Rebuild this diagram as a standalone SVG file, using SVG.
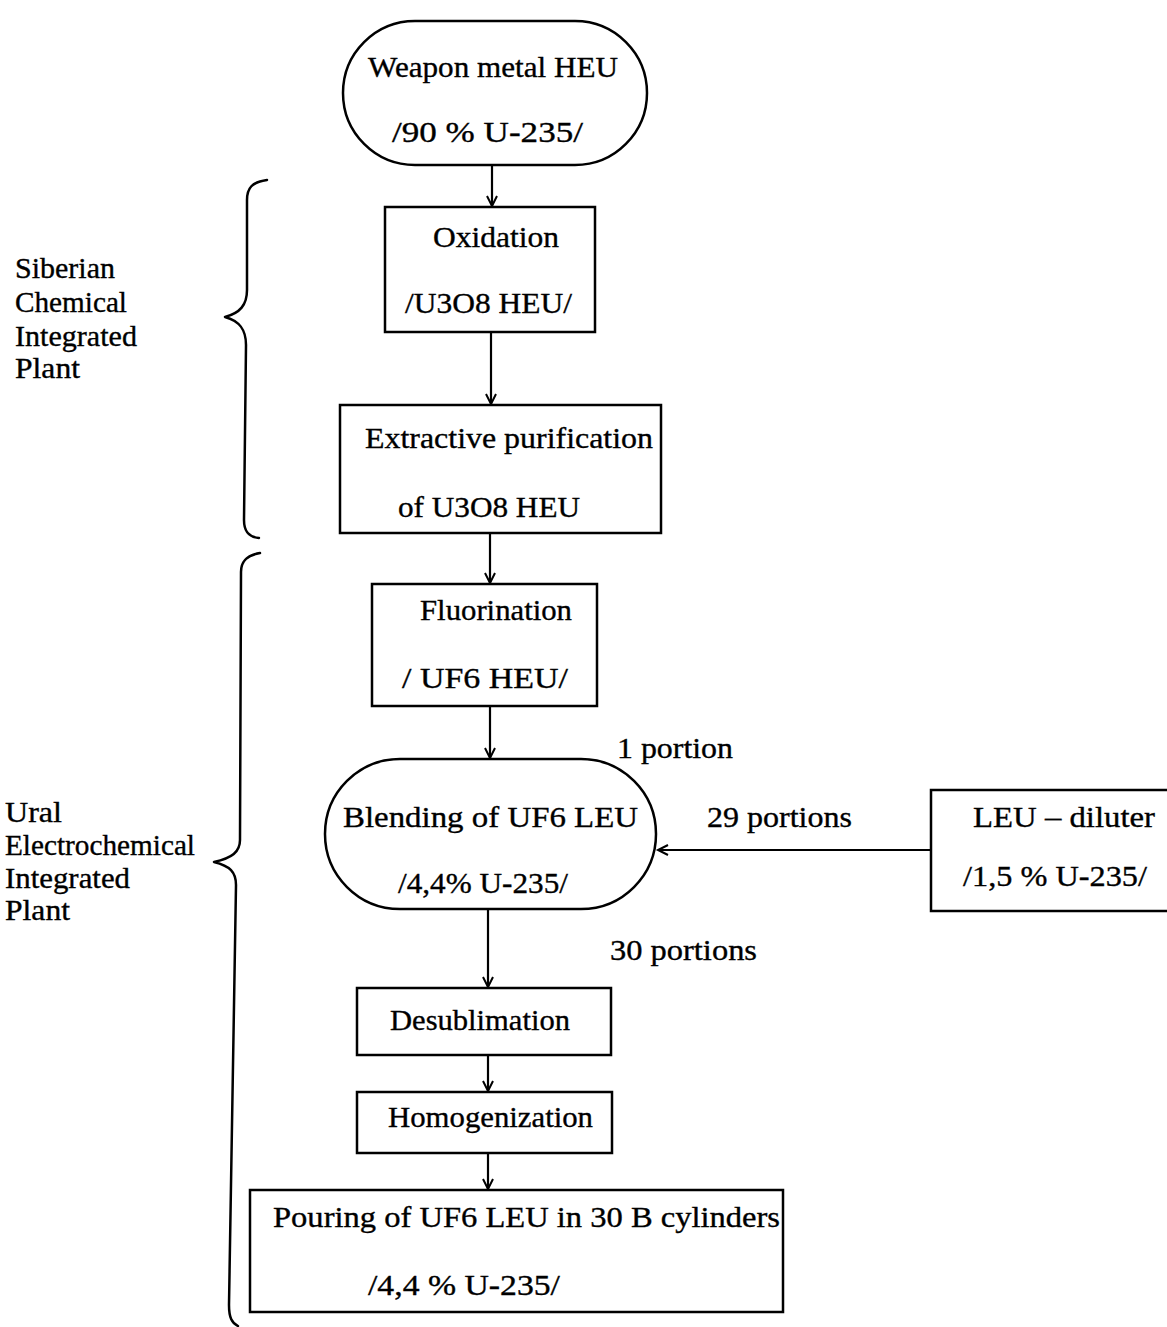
<svg xmlns="http://www.w3.org/2000/svg" width="1167" height="1327" viewBox="0 0 1167 1327">
<style>
  .bg { fill: #ffffff; }
  .node { fill: #ffffff; stroke: #000; stroke-width: 2.5; }
  .t { font-family: "Liberation Serif", "Times New Roman", serif; font-size: 30px; fill: #000; stroke: #000; stroke-width: 0.35; }
  .lab { font-family: "Liberation Serif", "Times New Roman", serif; font-size: 29px; fill: #000; stroke: #000; stroke-width: 0.35; }
  .conn { fill: none; stroke: #000; stroke-width: 2.2; }
  .brace { fill: none; stroke: #000; stroke-width: 2.5; stroke-linecap: round; stroke-linejoin: round; }
</style>
<defs>
  <marker id="arrow" markerUnits="userSpaceOnUse" markerWidth="14" markerHeight="14" refX="11" refY="6" orient="auto">
    <path d="M1,1 L11,6 L1,11" fill="none" stroke="#000" stroke-width="2"/>
  </marker>
</defs>
<rect class="bg" x="0" y="0" width="1167" height="1327"/>

<g id="braces">
  <path class="brace" d="M267,180 C252,182 247,188 247,200 L247,290 C247,305 240,313 225,317 C240,321 246,330 246,345 L244,520 C244,532 249,537 259,538"/>
  <path class="brace" d="M260,553 C248,555 241,560 241,572 L240,840 C240,852 232,858 214,862 C230,866 236,872 236,885 L229,1305 C229,1318 232,1323 238,1326"/>
</g>

<g id="label-siberian">
  <text class="lab" x="15" y="278" textLength="100" lengthAdjust="spacingAndGlyphs">Siberian</text>
  <text class="lab" x="15" y="312" textLength="112" lengthAdjust="spacingAndGlyphs">Chemical</text>
  <text class="lab" x="15" y="346" textLength="122" lengthAdjust="spacingAndGlyphs">Integrated</text>
  <text class="lab" x="15" y="378" textLength="65" lengthAdjust="spacingAndGlyphs">Plant</text>
</g>
<g id="label-ural">
  <text class="lab" x="5" y="822" textLength="57" lengthAdjust="spacingAndGlyphs">Ural</text>
  <text class="lab" x="5" y="855" textLength="190" lengthAdjust="spacingAndGlyphs">Electrochemical</text>
  <text class="lab" x="5" y="888" textLength="125" lengthAdjust="spacingAndGlyphs">Integrated</text>
  <text class="lab" x="5" y="920" textLength="65" lengthAdjust="spacingAndGlyphs">Plant</text>
</g>

<g id="connectors">
  <line class="conn" x1="492" y1="165" x2="492" y2="206" marker-end="url(#arrow)"/>
  <line class="conn" x1="491" y1="332" x2="491" y2="404" marker-end="url(#arrow)"/>
  <line class="conn" x1="490" y1="533" x2="490" y2="583" marker-end="url(#arrow)"/>
  <line class="conn" x1="490" y1="706" x2="490" y2="758" marker-end="url(#arrow)"/>
  <line class="conn" x1="931" y1="850" x2="658" y2="850" marker-end="url(#arrow)"/>
  <line class="conn" x1="488" y1="909" x2="488" y2="987" marker-end="url(#arrow)"/>
  <line class="conn" x1="488" y1="1055" x2="488" y2="1091" marker-end="url(#arrow)"/>
  <line class="conn" x1="488" y1="1153" x2="488" y2="1189" marker-end="url(#arrow)"/>
</g>

<g id="node-weapon">
  <rect class="node" x="343" y="21" width="304" height="144" rx="72" ry="72"/>
  <text class="t" x="368" y="77" textLength="250" lengthAdjust="spacingAndGlyphs">Weapon metal HEU</text>
  <text class="t" x="392" y="142" textLength="191" lengthAdjust="spacingAndGlyphs">/90 % U-235/</text>
</g>

<g id="node-oxidation">
  <rect class="node" x="385" y="207" width="210" height="125"/>
  <text class="t" x="433" y="247" textLength="126" lengthAdjust="spacingAndGlyphs">Oxidation</text>
  <text class="t" x="405" y="313" textLength="167" lengthAdjust="spacingAndGlyphs">/U3O8 HEU/</text>
</g>

<g id="node-extractive">
  <rect class="node" x="340" y="405" width="321" height="128"/>
  <text class="t" x="365" y="448" textLength="288" lengthAdjust="spacingAndGlyphs">Extractive purification</text>
  <text class="t" x="398" y="517" textLength="182" lengthAdjust="spacingAndGlyphs">of U3O8 HEU</text>
</g>

<g id="node-fluorination">
  <rect class="node" x="372" y="584" width="225" height="122"/>
  <text class="t" x="420" y="620" textLength="152" lengthAdjust="spacingAndGlyphs">Fluorination</text>
  <text class="t" x="402" y="688" textLength="166" lengthAdjust="spacingAndGlyphs">/ UF6 HEU/</text>
</g>

<g id="node-blending">
  <rect class="node" x="325" y="759" width="331" height="150" rx="75" ry="75"/>
  <text class="t" x="343" y="827" textLength="295" lengthAdjust="spacingAndGlyphs">Blending of UF6 LEU</text>
  <text class="t" x="398" y="893" textLength="170" lengthAdjust="spacingAndGlyphs">/4,4% U-235/</text>
</g>

<g id="edge-labels">
  <text class="t" x="617" y="758" textLength="116" lengthAdjust="spacingAndGlyphs">1 portion</text>
  <text class="t" x="707" y="827" textLength="145" lengthAdjust="spacingAndGlyphs">29 portions</text>
  <text class="t" x="610" y="960" textLength="147" lengthAdjust="spacingAndGlyphs">30 portions</text>
</g>

<g id="node-diluter">
  <rect class="node" x="931" y="790" width="240" height="121"/>
  <text class="t" x="973" y="827" textLength="182" lengthAdjust="spacingAndGlyphs">LEU – diluter</text>
  <text class="t" x="963" y="886" textLength="184" lengthAdjust="spacingAndGlyphs">/1,5 % U-235/</text>
</g>

<g id="node-desublimation">
  <rect class="node" x="357" y="988" width="254" height="67"/>
  <text class="t" x="390" y="1030" textLength="180" lengthAdjust="spacingAndGlyphs">Desublimation</text>
</g>

<g id="node-homogenization">
  <rect class="node" x="357" y="1092" width="255" height="61"/>
  <text class="t" x="388" y="1127" textLength="205" lengthAdjust="spacingAndGlyphs">Homogenization</text>
</g>

<g id="node-pouring">
  <rect class="node" x="250" y="1190" width="533" height="122"/>
  <text class="t" x="273" y="1227" textLength="507" lengthAdjust="spacingAndGlyphs">Pouring of UF6 LEU in 30 B cylinders</text>
  <text class="t" x="368" y="1295" textLength="192" lengthAdjust="spacingAndGlyphs">/4,4 % U-235/</text>
</g>
</svg>
